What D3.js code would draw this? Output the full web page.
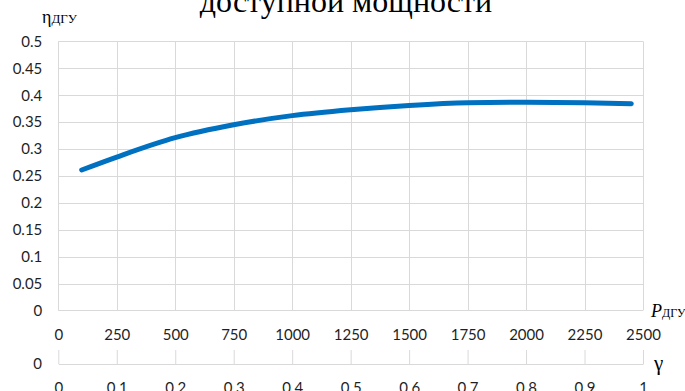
<!DOCTYPE html>
<html>
<head>
<meta charset="utf-8">
<script src="https://cdn.jsdelivr.net/npm/d3@7/dist/d3.min.js"></script>
<style>
  html, body { margin: 0; padding: 0; background: #fff; }
  svg { display: block; }
  .tick text { font-family: Lato, "Open Sans", sans-serif; font-size: 15px; fill: #1f1f1f; }
</style>
</head>
<body>
<svg id="chart" width="685" height="391"></svg>
<script>
// Diesel generator efficiency versus available power
const powerKW = [100, 250, 500, 750, 1000, 1250, 1500, 1750, 2000, 2250, 2450];
const efficiency = [0.261, 0.285, 0.321, 0.345, 0.362, 0.373, 0.381, 0.386, 0.387, 0.386, 0.384];

const powerTicks = [0, 250, 500, 750, 1000, 1250, 1500, 1750, 2000, 2250, 2500];
const etaTicks = [0, 0.05, 0.1, 0.15, 0.2, 0.25, 0.3, 0.35, 0.4, 0.45, 0.5];
const gammaTicks = [0, 0.1, 0.2, 0.3, 0.4, 0.5, 0.6, 0.7, 0.8, 0.9, 1];

const titleText = "доступной мощности";

const svg = d3.select("#chart");
const gridColor = "#d9d9d9";
const serif = "'Liberation Serif', 'DejaVu Serif', serif";

const plotLeft = 58.3, plotRight = 643, plotTop = 41.4, plotBottom = 310.4;
const gammaAxisY = 364;

const x = d3.scaleLinear().domain([0, 2500]).range([plotLeft, plotRight]);
const y = d3.scaleLinear().domain([0, 0.5]).range([plotBottom, plotTop]);
const g = d3.scaleLinear().domain([0, 1]).range([plotLeft, plotRight]);

// Title (lower line visible)
svg.append("text")
  .attr("x", 346).attr("y", 11.5)
  .attr("text-anchor", "middle")
  .attr("font-family", serif)
  .attr("font-size", 32)
  .attr("fill", "#000")
  .text(titleText);

// Grid
const grid = svg.append("g").attr("stroke", gridColor).attr("stroke-width", 1);
grid.selectAll("line.h").data(etaTicks).join("line")
  .attr("class", "h")
  .attr("x1", plotLeft).attr("x2", plotRight)
  .attr("y1", d => Math.round(y(d)) + 0.5).attr("y2", d => Math.round(y(d)) + 0.5);
grid.selectAll("line.v").data(powerTicks).join("line")
  .attr("class", "v")
  .attr("y1", plotTop).attr("y2", plotBottom)
  .attr("x1", d => Math.round(x(d)) + 0.5).attr("x2", d => Math.round(x(d)) + 0.5);

// Y axis labels
svg.append("g")
  .attr("transform", `translate(${plotLeft},0)`)
  .call(d3.axisLeft(y).tickValues(etaTicks).tickSize(0).tickPadding(16)
        .tickFormat(d => d3.format("")(+d.toFixed(2))))
  .call(a => a.select(".domain").remove());

// X axis labels (power)
svg.append("g")
  .attr("transform", `translate(0,${plotBottom})`)
  .call(d3.axisBottom(x).tickValues(powerTicks).tickSize(0).tickFormat(d3.format("d")))
  .call(a => a.select(".domain").remove())
  .call(a => a.selectAll("text").attr("y", 24).attr("dy", "0.35em"));

// Secondary gamma axis
const gAxis = svg.append("g")
  .attr("transform", `translate(0,${gammaAxisY})`)
  .call(d3.axisBottom(g).tickValues(gammaTicks).tickSizeInner(-14).tickSizeOuter(0)
        .tickFormat(d => d3.format("")(+d.toFixed(1))));
gAxis.select(".domain").attr("stroke", gridColor);
gAxis.selectAll(".tick line").attr("stroke", gridColor);
gAxis.selectAll("text").attr("y", 24).attr("dy", "0.35em");

svg.append("text")
  .attr("x", 42).attr("y", gammaAxisY).attr("dy", "0.35em")
  .attr("text-anchor", "end")
  .attr("font-family", "Lato, 'Open Sans', sans-serif")
  .attr("font-size", 15).attr("fill", "#1f1f1f")
  .text("0");

// Axis titles
const etaLabel = svg.append("text")
  .attr("x", 42).attr("y", 23)
  .attr("font-family", serif).attr("fill", "#000");
etaLabel.append("tspan").attr("font-size", 18).text("η");
etaLabel.append("tspan").attr("font-size", 13).text("ДГУ");

const pLabel = svg.append("text")
  .attr("x", 651).attr("y", 317)
  .attr("font-family", serif).attr("fill", "#000");
pLabel.append("tspan").attr("font-size", 18).attr("font-style", "italic").text("P");
pLabel.append("tspan").attr("font-size", 12).text("ДГУ");

svg.append("text")
  .attr("x", 654).attr("y", 370)
  .attr("font-family", serif).attr("font-size", 21).attr("fill", "#000")
  .text("γ");

// Efficiency curve
const line = d3.line()
  .x((d, i) => x(powerKW[i]))
  .y(d => y(d))
  .curve(d3.curveMonotoneX);

svg.append("path")
  .datum(efficiency)
  .attr("d", line)
  .attr("fill", "none")
  .attr("stroke", "#0070C0")
  .attr("stroke-width", 5)
  .attr("stroke-linecap", "round")
  .attr("stroke-linejoin", "round");
</script>
</body>
</html>
